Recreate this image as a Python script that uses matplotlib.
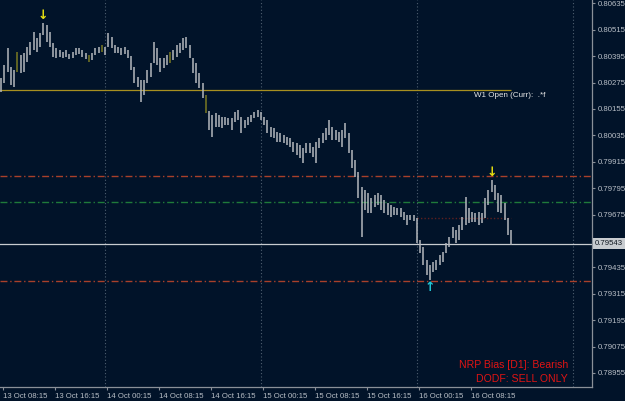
import matplotlib
matplotlib.use('Agg')
import matplotlib.pyplot as plt
import numpy as np

# ---- data (30-minute bars, 13 Oct 08:00 -> 16 Oct 14:30) ----
highs = [0.80295, 0.80355, 0.80432, 0.80345, 0.80332, 0.80414, 0.80400, 0.80409, 0.80436, 0.80459,
         0.80505, 0.80477, 0.80500, 0.80545, 0.80536, 0.80505, 0.80455, 0.80432, 0.80423, 0.80414,
         0.80423, 0.80405, 0.80414, 0.80432, 0.80432, 0.80423, 0.80409, 0.80400, 0.80409, 0.80432,
         0.80436, 0.80445, 0.80436, 0.80500, 0.80482, 0.80445, 0.80436, 0.80432, 0.80436, 0.80423,
         0.80395, 0.80345, 0.80300, 0.80286, 0.80286, 0.80332, 0.80364, 0.80459, 0.80432, 0.80386,
         0.80386, 0.80400, 0.80414, 0.80423, 0.80445, 0.80455, 0.80477, 0.80482, 0.80445, 0.80386,
         0.80364, 0.80318, 0.80273, 0.80218, 0.80145, 0.80127, 0.80136, 0.80127, 0.80118, 0.80118,
         0.80114, 0.80114, 0.80141, 0.80150, 0.80118, 0.80105, 0.80118, 0.80127, 0.80141, 0.80150,
         0.80141, 0.80118, 0.80105, 0.80073, 0.80068, 0.80050, 0.80046, 0.80036, 0.80027, 0.80023,
         0.80005, 0.80000, 0.79991, 0.79977, 0.80000, 0.80000, 0.79982, 0.80005, 0.80023, 0.80046,
         0.80068, 0.80105, 0.80073, 0.80059, 0.80050, 0.80059, 0.80091, 0.80046, 0.79968, 0.79923,
         0.79868, 0.79800, 0.79786, 0.79773, 0.79750, 0.79764, 0.79773, 0.79764, 0.79741, 0.79727,
         0.79718, 0.79709, 0.79705, 0.79705, 0.79686, 0.79673, 0.79673, 0.79673, 0.79659, 0.79559,
         0.79527, 0.79468, 0.79446, 0.79459, 0.79468, 0.79491, 0.79505, 0.79546, 0.79573, 0.79618,
         0.79605, 0.79627, 0.79664, 0.79755, 0.79705, 0.79686, 0.79682, 0.79686, 0.79682, 0.79750,
         0.79786, 0.79832, 0.79809, 0.79773, 0.79764, 0.79727, 0.79659, 0.79605]
lows = [0.80232, 0.80273, 0.80323, 0.80264, 0.80255, 0.80323, 0.80318, 0.80323, 0.80368, 0.80400,
        0.80423, 0.80414, 0.80436, 0.80491, 0.80459, 0.80436, 0.80391, 0.80386, 0.80391, 0.80386,
        0.80391, 0.80382, 0.80386, 0.80400, 0.80405, 0.80391, 0.80382, 0.80368, 0.80377, 0.80400,
        0.80409, 0.80414, 0.80400, 0.80436, 0.80432, 0.80409, 0.80409, 0.80400, 0.80405, 0.80386,
        0.80332, 0.80273, 0.80255, 0.80186, 0.80218, 0.80273, 0.80300, 0.80364, 0.80355, 0.80323,
        0.80341, 0.80355, 0.80364, 0.80377, 0.80391, 0.80409, 0.80423, 0.80432, 0.80386, 0.80318,
        0.80273, 0.80250, 0.80205, 0.80136, 0.80059, 0.80027, 0.80073, 0.80073, 0.80068, 0.80082,
        0.80082, 0.80059, 0.80096, 0.80105, 0.80046, 0.80068, 0.80082, 0.80096, 0.80114, 0.80118,
        0.80105, 0.80082, 0.80046, 0.80027, 0.80023, 0.80005, 0.80005, 0.80000, 0.79991, 0.79982,
        0.79959, 0.79946, 0.79932, 0.79909, 0.79955, 0.79955, 0.79936, 0.79909, 0.79977, 0.80000,
        0.80014, 0.80036, 0.80014, 0.80014, 0.80005, 0.79982, 0.80023, 0.79955, 0.79886, 0.79846,
        0.79750, 0.79573, 0.79695, 0.79682, 0.79682, 0.79709, 0.79718, 0.79695, 0.79682, 0.79673,
        0.79664, 0.79673, 0.79673, 0.79664, 0.79650, 0.79627, 0.79650, 0.79646, 0.79546, 0.79500,
        0.79446, 0.79400, 0.79377, 0.79414, 0.79423, 0.79446, 0.79459, 0.79500, 0.79527, 0.79568,
        0.79546, 0.79559, 0.79605, 0.79627, 0.79636, 0.79641, 0.79641, 0.79627, 0.79636, 0.79659,
        0.79718, 0.79777, 0.79741, 0.79686, 0.79682, 0.79650, 0.79582, 0.79536]
olive_bars = [5, 27, 31, 52, 63]
arrow_down_bars = [13, 151]
arrow_up_bars = [132]

y_tick_values = [0.80635, 0.80515, 0.80395, 0.80275, 0.80155, 0.80035, 0.79915, 0.79795,
                 0.79675, 0.79435, 0.79315, 0.79195, 0.79075, 0.78955]
x_tick_labels = ['13 Oct 08:15', '13 Oct 16:15', '14 Oct 00:15', '14 Oct 08:15', '14 Oct 16:15',
                 '15 Oct 00:15', '15 Oct 08:15', '15 Oct 16:15', '16 Oct 00:15', '16 Oct 08:15']
x_tick_bars = [0.5, 16.5, 32.5, 48.5, 64.5, 80.5, 96.5, 112.5, 128.5, 144.5]
day_sep_bars = [32, 80, 128, 176]

current_price = 0.79543
w1_open = 0.80240
level_red_hi = 0.79852
level_green = 0.79732
level_red_lo = 0.79373
level_dark = 0.79661
level_dark_start = 128

BG = '#011329'
FONT = 'Liberation Sans'

fig = plt.figure(figsize=(6.25, 4.01), dpi=100, facecolor=BG)
ax = fig.add_axes([0, 14 / 401, 592 / 625, 387 / 401], facecolor=BG)

n = len(highs)
x = np.arange(n)

# day separators
for d in day_sep_bars:
    ax.axvline(d, color='#4f5f70', lw=0.8, ls=(0, (1, 2)), zorder=1)

# horizontal levels
ax.axhline(level_red_hi, color='#a8402a', lw=1.0, ls=(0, (5, 2, 1, 2)), zorder=1)
ax.axhline(level_green, color='#1f7a3a', lw=1.0, ls=(0, (5, 2, 1, 2)), zorder=1)
ax.axhline(level_red_lo, color='#a8402a', lw=1.0, ls=(0, (5, 2, 1, 2)), zorder=1)
ax.hlines(level_dark, level_dark_start, n - 1, color='#5e2020', lw=1.0, ls=(0, (1, 1.5)), zorder=1)
ax.hlines(w1_open, -1, n - 1, color='#a89020', lw=0.9, zorder=2)
ax.axhline(current_price, color='#c8ccd0', lw=0.9, zorder=2)

# bars
colors = ['#7a7a22' if i in olive_bars else '#b4b8bd' for i in range(n)]
ax.vlines(x, lows, highs, colors=colors, lw=1.1, zorder=3)

# arrows
for i in arrow_down_bars:
    ax.annotate('\u2193', (x[i], highs[i]), xytext=(0, 0.5), textcoords='offset points',
                ha='center', va='bottom', color='#e8e010', fontsize=9, fontweight='bold',
                family='DejaVu Sans', zorder=4)
for i in arrow_up_bars:
    ax.annotate('\u2191', (x[i], lows[i]), xytext=(0, -0.5), textcoords='offset points',
                ha='center', va='top', color='#20c8d8', fontsize=9, fontweight='bold',
                family='DejaVu Sans', zorder=4)

# texts
ax.text(145.5, 0.80214, 'W1 Open (Curr):  .*f', color='#e8e8e8', fontsize=5.8,
        family=FONT, va='center', ha='left', zorder=5)
ax.text(568 / 592, (387 - 365) / 387, 'NRP Bias [D1]: Bearish', color='#e01414', fontsize=7.6,
        family=FONT, va='center', ha='right', transform=ax.transAxes, zorder=5)
ax.text(568 / 592, (387 - 379) / 387, 'DODF: SELL ONLY', color='#e01414', fontsize=7.6,
        family=FONT, va='center', ha='right', transform=ax.transAxes, zorder=5)

ax.set_xlim(-0.31, 181.85)
ax.set_ylim(0.78891, 0.80650)

# axes styling
for s in ['left', 'top']:
    ax.spines[s].set_visible(False)
for s in ['right', 'bottom']:
    ax.spines[s].set_color('#8a9098')
    ax.spines[s].set_linewidth(0.9)

ax.yaxis.tick_right()
ax.set_yticks(y_tick_values)
ax.set_yticklabels([f'{v:.5f}' for v in y_tick_values])
ax.tick_params(axis='y', colors='#8a9098', labelcolor='#b8bec6', length=2.5, width=0.8,
               pad=1.5, labelsize=5.6, direction='out')
ax.set_xticks(x_tick_bars)
ax.set_xticklabels(x_tick_labels, ha='left')
ax.tick_params(axis='x', colors='#8a9098', labelcolor='#b8bec6', length=2.5, width=0.8,
               pad=1.5, labelsize=5.6, direction='out')
for lab in ax.get_xticklabels() + ax.get_yticklabels():
    lab.set_family(FONT)

# current price tag
ax.text(1.005, current_price, f'{current_price:.5f}', transform=ax.get_yaxis_transform(),
        color='#101820', fontsize=5.6, family=FONT, va='center', ha='left',
        bbox=dict(boxstyle='square,pad=0.2', fc='#c8ccd0', ec='none'), zorder=6, clip_on=False)

fig.savefig('out.png', dpi=100, facecolor=BG)
